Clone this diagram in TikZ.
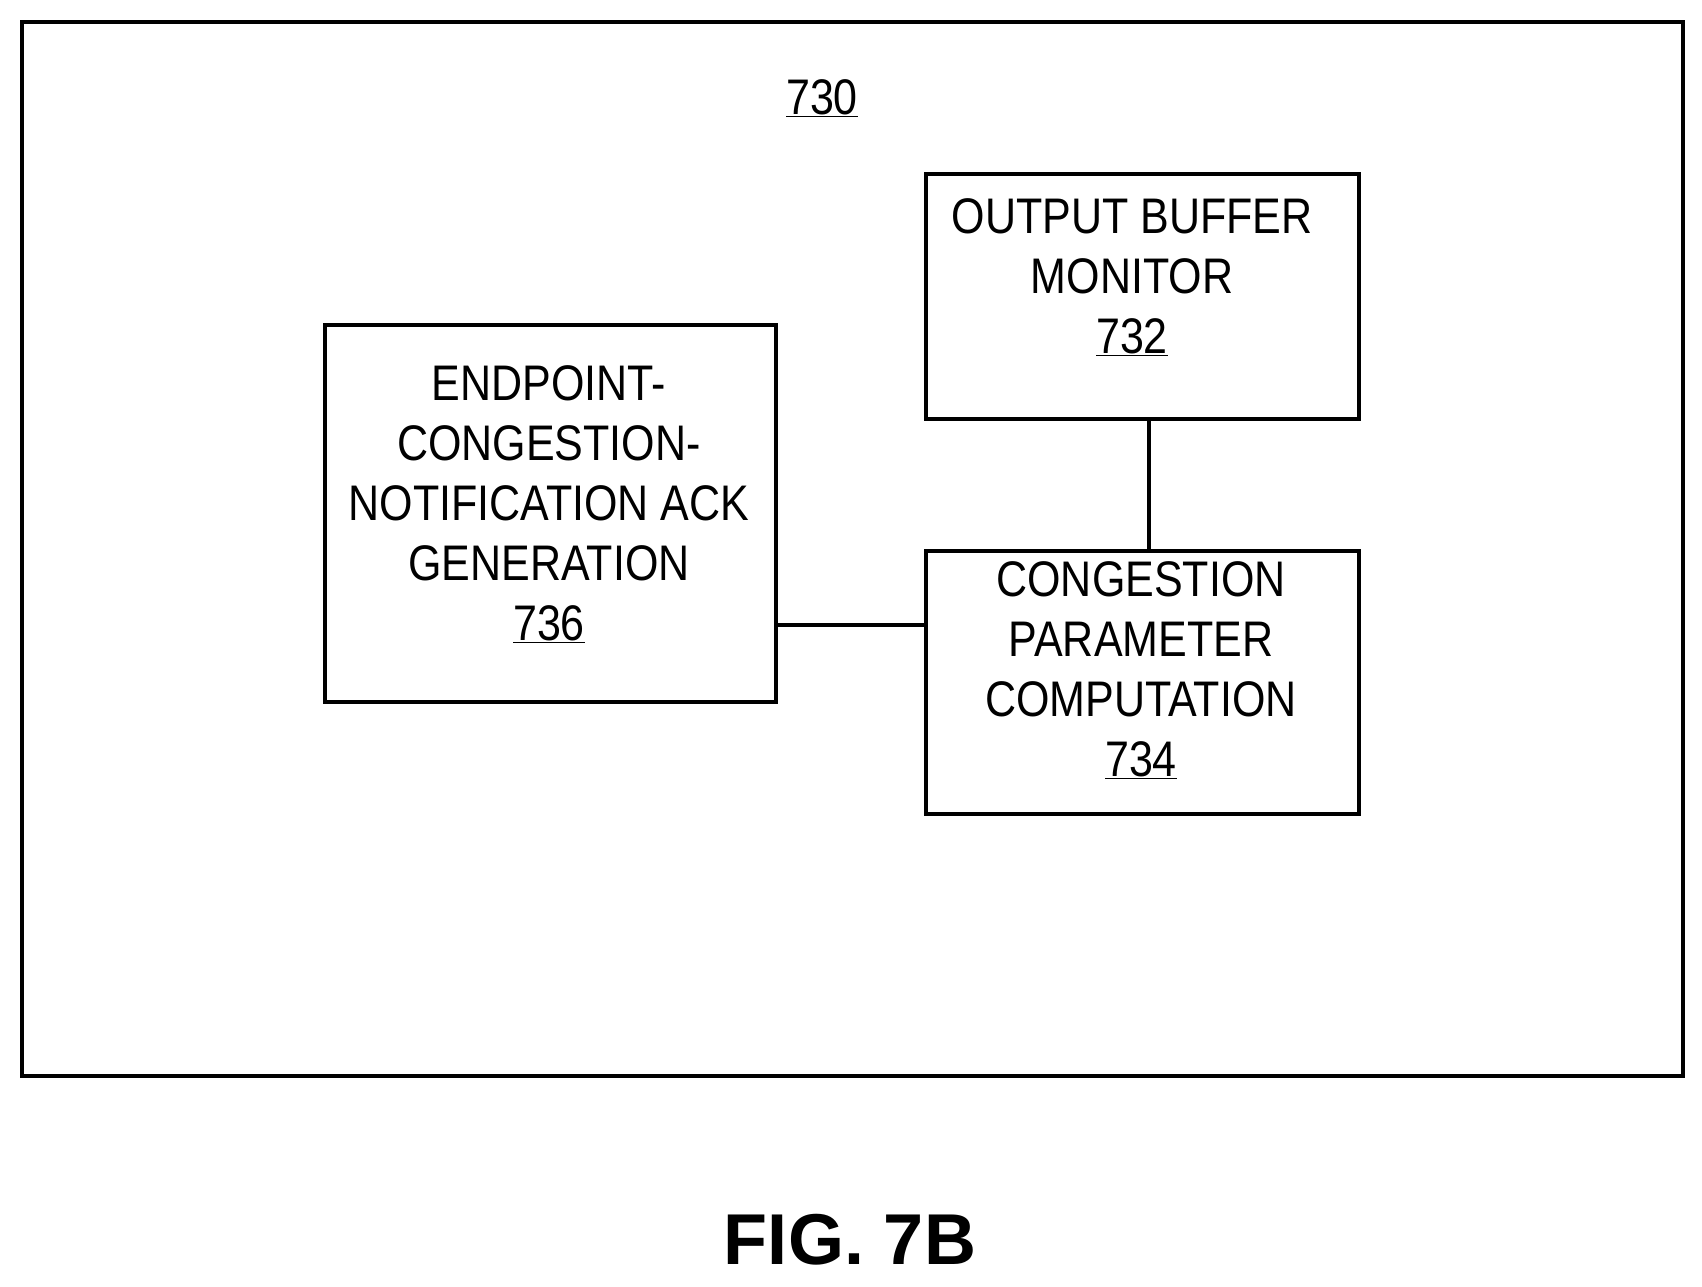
\documentclass[tikz,border=0pt]{standalone}
\usepackage{fontspec}
\setmainfont{Liberation Sans}
\newfontfamily\narrowfont[FakeStretch=0.86]{Liberation Sans}
\tikzset{
    block/.style = {
        draw,
        line width=4pt,
        align=center,
        font=\narrowfont\fontsize{50}{60}\selectfont,
        inner sep=0pt,
        },
    link/.style = {
        line width=4pt,
        },
}
\begin{document}
\begin{tikzpicture}[x=1pt,y=-1pt]
    \useasboundingbox (0,0) rectangle (1702,1286);
    \draw[line width=4pt] (22,22) rectangle (1683,1076);
    \node[font=\narrowfont\fontsize{50}{60}\selectfont] (lbl) at (822,98) {\underline{730}};

    \node[block, minimum width=433pt, minimum height=245pt, anchor=north west] (monitor) at (924,172) {};
    \node[font=\narrowfont\fontsize{50}{60}\selectfont, align=center, anchor=north] at (1132,195) {OUTPUT BUFFER\\MONITOR\\\underline{732}};

    \node[block, minimum width=433pt, minimum height=263pt, anchor=north west] (compute) at (924,549) {};
    \node[font=\narrowfont\fontsize{50}{60}\selectfont, align=center, anchor=north] at (1141,558) {CONGESTION\\PARAMETER\\COMPUTATION\\\underline{734}};

    \node[block, minimum width=451pt, minimum height=377pt, anchor=north west] (ackgen) at (323,323) {};
    \node[font=\narrowfont\fontsize{50}{60}\selectfont, align=center, anchor=north] at (549,362) {ENDPOINT-\\CONGESTION-\\NOTIFICATION ACK\\GENERATION\\\underline{736}};

    \draw[link] (monitor.south -| 1149,0) -- (compute.north -| 1149,0);
    \draw[link] (ackgen.east |- 0,625) -- (compute.west |- 0,625);

    \node[font=\bfseries\fontsize{72}{80}\selectfont] (fig) at (850,1240) {FIG. 7B};
\end{tikzpicture}
\end{document}
